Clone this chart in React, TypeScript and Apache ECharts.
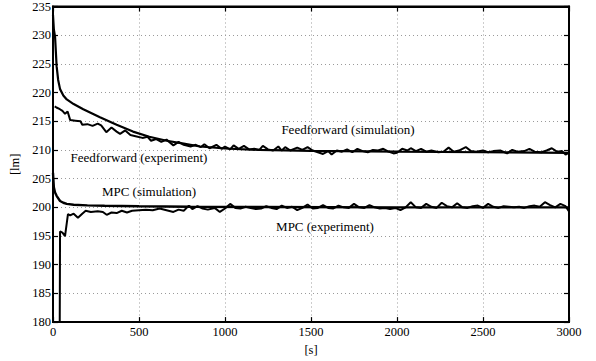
import React, { useEffect, useRef } from "react";
import * as echarts from "echarts";

const xTicks = [0, 500, 1000, 1500, 2000, 2500, 3000];
const yRange = [180, 235];

const ffSimT = [0, 5, 12, 21, 30, 41, 60, 80, 120, 176, 273, 370, 465, 560, 661, 760, 855, 1000, 1200, 1500, 2000, 2500, 3000];
const ffSimV = [233.5, 231, 229.7, 224.6, 222.2, 220.6, 219.5, 218.8, 218.0, 217.1, 215.7, 214.4, 213.2, 212.3, 211.6, 211.1, 210.6, 210.25, 210.0, 209.85, 209.7, 209.6, 209.5];

const ffExpT = [10, 20, 40, 55, 70, 85, 100, 130, 160, 170, 200, 230, 260, 280, 310, 340, 370, 390, 420, 450, 480, 520, 550, 570, 600, 630, 660, 700, 730, 760, 800, 830, 860, 880, 910, 950, 980, 1000, 1030, 1050, 1080, 1110, 1140, 1170, 1200, 1220, 1250, 1280, 1310, 1330, 1350, 1380, 1420, 1450, 1480, 1510, 1540, 1570, 1600, 1620, 1650, 1680, 1710, 1740, 1770, 1800, 1830, 1860, 1890, 1920, 1950, 1980, 2000, 2030, 2060, 2080, 2110, 2140, 2170, 2200, 2240, 2270, 2300, 2330, 2360, 2400, 2430, 2460, 2500, 2530, 2560, 2600, 2640, 2670, 2700, 2740, 2770, 2800, 2840, 2870, 2900, 2930, 2960, 2980, 3000];
const ffExpV = [217.6, 217.4, 217.1, 216.8, 216.3, 216.7, 215.2, 215.1, 215.0, 214.4, 214.5, 214.2, 214.6, 214.3, 213.1, 213.9, 213.2, 212.8, 213.4, 212.6, 212.4, 212.1, 212.3, 211.6, 211.9, 211.4, 211.8, 210.8, 211.4, 210.9, 210.6, 210.9, 210.5, 211.0, 210.3, 210.9, 210.2, 210.6, 210.1, 210.8, 210.2, 210.7, 210.1, 210.2, 210.0, 210.7, 210.1, 209.9, 210.6, 209.9, 210.5, 209.9, 210.4, 210.0, 210.5, 209.9, 209.6, 209.3, 209.8, 209.2, 209.9, 209.7, 210.1, 209.6, 210.2, 209.8, 209.6, 210.0, 209.9, 210.2, 209.7, 209.4, 209.5, 210.2, 209.9, 210.3, 209.8, 210.2, 209.7, 209.9, 209.6, 209.7, 210.4, 209.7, 209.9, 210.5, 209.8, 209.7, 209.9, 209.6, 209.8, 209.9, 209.4, 210.0, 209.7, 209.8, 210.2, 209.7, 209.6, 209.9, 210.3, 209.7, 209.8, 209.2, 209.5];

const mpcSimT = [0, 5, 12, 21, 41, 60, 80, 120, 200, 300, 500, 800, 1200, 2000, 3000];
const mpcSimV = [206, 203.5, 202.6, 202.0, 201.1, 200.8, 200.6, 200.45, 200.35, 200.28, 200.18, 200.1, 200.05, 200.0, 200.0];

const mpcExpT = [0, 38, 41, 55, 70, 87, 100, 120, 145, 170, 190, 220, 260, 290, 312, 340, 370, 400, 430, 460, 500, 540, 580, 620, 660, 700, 730, 760, 790, 810, 840, 870, 900, 940, 970, 1000, 1030, 1060, 1090, 1120, 1150, 1180, 1210, 1240, 1270, 1300, 1330, 1360, 1390, 1420, 1450, 1480, 1510, 1540, 1570, 1600, 1630, 1660, 1690, 1720, 1750, 1780, 1810, 1840, 1870, 1900, 1930, 1960, 1990, 2020, 2050, 2080, 2110, 2140, 2170, 2200, 2230, 2260, 2290, 2320, 2350, 2380, 2410, 2440, 2470, 2500, 2530, 2560, 2590, 2620, 2650, 2680, 2710, 2740, 2770, 2800, 2830, 2860, 2890, 2920, 2950, 2980, 3000];
const mpcExpV = [170, 170, 195.8, 195.6, 195.0, 198.8, 198.6, 198.9, 198.2, 198.9, 199.4, 199.2, 199.3, 199.2, 198.7, 199.1, 199.0, 199.4, 199.1, 199.4, 199.5, 199.6, 199.5, 199.8, 199.5, 199.2, 199.6, 199.4, 200.3, 199.7, 200.2, 199.8, 199.6, 199.9, 199.2, 199.8, 200.6, 199.9, 199.8, 200.1, 199.9, 199.7, 199.8, 200.2, 199.9, 199.7, 200.3, 199.9, 200.1, 199.5, 199.9, 200.5, 199.8, 199.9, 200.4, 199.9, 199.8, 200.3, 200.0, 199.9, 200.6, 200.0, 199.9, 200.4, 200.0, 199.8, 199.9, 199.7, 199.9, 199.5, 200.0, 200.9, 200.0, 199.9, 200.6, 200.1, 199.9, 200.8, 200.2, 200.0, 200.7, 200.0, 199.9, 200.2, 200.3, 199.9, 200.6, 200.1, 199.9, 200.2, 200.1, 200.0, 200.1, 199.9, 200.2, 200.3, 200.1, 200.9, 200.4, 200.0, 200.6, 200.2, 199.3];

const labels = [
  { text: "Feedforward (simulation)", x: 348, y: 129 },
  { text: "Feedforward (experiment)", x: 139, y: 157 },
  { text: "MPC (simulation)", x: 149, y: 191 },
  { text: "MPC (experiment)", x: 325, y: 226 },
];

const FONT = "Times New Roman, Liberation Serif, DejaVu Serif, serif";

function zip(t: number[], v: number[]) {
  return t.map((x, i) => [x, v[i]]);
}

export default function App() {
  const ref = useRef<HTMLDivElement>(null);
  useEffect(() => {
    if (!ref.current) return;
    const chart = echarts.init(ref.current, null, { renderer: "svg" });
    const axisLine = { show: true, onZero: false, lineStyle: { color: "#000", width: 2 } };
    const tick = { show: true, inside: true, length: 5, lineStyle: { color: "#000", width: 1.2 } };
    const split = { show: true, lineStyle: { color: "#9a9a9a", type: [1, 3] as any, width: 1 } };
    const lbl = { color: "#000", fontFamily: FONT, fontSize: 12.5 };
    const line = (data: number[][], w: number) => ({
      type: "line",
      data,
      showSymbol: false,
      symbol: "none",
      lineStyle: { color: "#000", width: w },
      xAxisIndex: 0,
      yAxisIndex: 0,
      clip: true,
      z: 5,
    });
    chart.setOption({
      animation: false,
      backgroundColor: "#fff",
      textStyle: { fontFamily: FONT, color: "#000" },
      grid: { left: 53, right: 27, top: 6, bottom: 35, show: true, borderColor: "#000", borderWidth: 2, backgroundColor: "transparent" },
      xAxis: [
        {
          type: "value",
          min: xTicks[0],
          max: xTicks[xTicks.length - 1],
          interval: 500,
          position: "bottom",
          axisLine,
          axisTick: tick,
          splitLine: split,
          axisLabel: { ...lbl, margin: 3, formatter: (v: number) => String(v) },
          name: "[s]",
          nameLocation: "middle",
          nameGap: 17,
          nameTextStyle: { ...lbl },
        },
        {
          type: "value",
          min: xTicks[0],
          max: xTicks[xTicks.length - 1],
          interval: 500,
          position: "top",
          axisLine,
          axisTick: tick,
          splitLine: { show: false },
          axisLabel: { show: false },
        },
      ],
      yAxis: [
        {
          type: "value",
          min: yRange[0],
          max: yRange[1],
          interval: 5,
          position: "left",
          axisLine,
          axisTick: tick,
          splitLine: split,
          axisLabel: { ...lbl, margin: 2 },
          name: "[lm]",
          nameLocation: "middle",
          nameGap: 26,
          nameRotate: 90,
          nameTextStyle: { ...lbl },
        },
        {
          type: "value",
          min: yRange[0],
          max: yRange[1],
          interval: 5,
          position: "right",
          axisLine,
          axisTick: tick,
          splitLine: { show: false },
          axisLabel: { show: false },
        },
      ],
      series: [
        line(zip(ffSimT, ffSimV), 2.2),
        line(zip(ffExpT, ffExpV), 2),
        line(zip(mpcSimT, mpcSimV), 2.4),
        line(zip(mpcExpT, mpcExpV), 2),
      ],
      graphic: labels.map((l) => ({
        type: "text",
        x: l.x,
        y: l.y,
        z: 10,
        style: {
          text: l.text,
          fill: "#000",
          fontFamily: FONT,
          fontSize: 13,
          textAlign: "center",
          textVerticalAlign: "middle",
        },
      })),
    });
    return () => chart.dispose();
  }, []);
  return <div ref={ref} style={{ width: 596, height: 361, position: "absolute", left: 0, top: 0 }} />;
}
